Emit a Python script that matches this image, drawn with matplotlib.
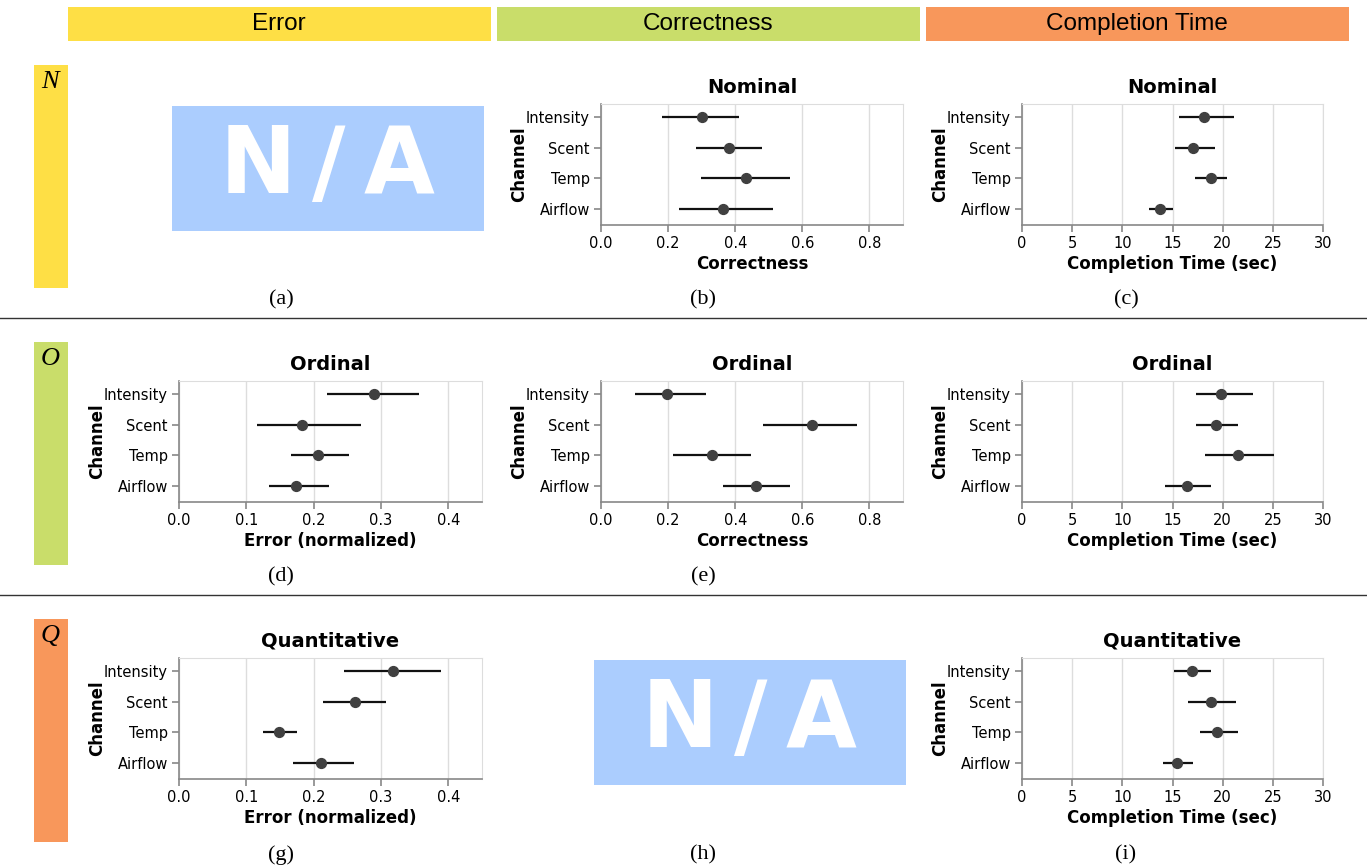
import matplotlib
matplotlib.use("Agg")
import matplotlib.pyplot as plt
from matplotlib.patches import Rectangle
import numpy as np

plt.rcParams['font.family'] = ['DejaVu Sans']

# Data: (mean, ci low, ci high) per channel
channels = ["Intensity", "Scent", "Temp", "Airflow"]

corr_nominal_mean = [0.300, 0.382, 0.432, 0.364]
corr_nominal_lo = [0.183, 0.282, 0.299, 0.233]
corr_nominal_hi = [0.412, 0.480, 0.564, 0.513]

time_nominal_mean = [18.1, 17.0, 18.8, 13.8]
time_nominal_lo = [15.6, 15.2, 17.2, 12.7]
time_nominal_hi = [21.1, 19.2, 20.4, 15.0]

err_ordinal_mean = [0.290, 0.183, 0.207, 0.174]
err_ordinal_lo = [0.220, 0.116, 0.167, 0.133]
err_ordinal_hi = [0.357, 0.270, 0.253, 0.223]

corr_ordinal_mean = [0.196, 0.630, 0.330, 0.463]
corr_ordinal_lo = [0.100, 0.482, 0.216, 0.364]
corr_ordinal_hi = [0.314, 0.763, 0.447, 0.563]

time_ordinal_mean = [19.8, 19.3, 21.5, 16.4]
time_ordinal_lo = [17.3, 17.3, 18.2, 14.3]
time_ordinal_hi = [23.0, 21.5, 25.1, 18.8]

err_quant_mean = [0.318, 0.262, 0.148, 0.211]
err_quant_lo = [0.245, 0.214, 0.125, 0.169]
err_quant_hi = [0.389, 0.308, 0.175, 0.260]

time_quant_mean = [16.9, 18.8, 19.4, 15.4]
time_quant_lo = [15.1, 16.5, 17.7, 14.1]
time_quant_hi = [18.8, 21.3, 21.5, 17.0]

col_titles = ["Error", "Correctness", "Completion Time"]
row_letters = ["N", "O", "Q"]
row_titles = ["Nominal", "Ordinal", "Quantitative"]
captions = ["(a)", "(b)", "(c)", "(d)", "(e)", "", "(g)", "(h)", "(i)"]

W, H = 1367, 867
YELLOW = "#fedf45"
GREEN = "#c9dd6a"
ORANGE = "#f8975b"
NA_BLUE = "#abcdfe"
colors = [YELLOW, GREEN, ORANGE]

fig = plt.figure(figsize=(W / 100, H / 100), dpi=100)

# background layer in pixel coordinates
bg = fig.add_axes([0, 0, 1, 1])
bg.set_xlim(0, W)
bg.set_ylim(H, 0)
bg.axis("off")

hdr_x = [68, 497, 926]
for i in range(3):
    bg.add_patch(Rectangle((hdr_x[i], 7), 423, 34, color=colors[i], lw=0))
    bg.text(hdr_x[i] + 211, 24, col_titles[i], ha="center", va="center",
            fontsize=17.5, family="Liberation Sans")

row_top = [65, 342, 619]
for i in range(3):
    bg.add_patch(Rectangle((34, row_top[i]), 34, 223, color=colors[i], lw=0))
    bg.text(50, row_top[i] + 17, row_letters[i], ha="center", va="center",
            fontsize=19, family="Liberation Serif", style="italic")

for y in [318, 595]:
    bg.plot([0, W], [y, y], color="#333333", lw=1)

cap_x = [281, 703, 1126]
cap_y = [300, 577, 855]
for r in range(3):
    for c in range(3):
        bg.text(cap_x[c], cap_y[r], captions[r * 3 + c], ha="center", va="center",
                fontsize=16, family="Liberation Serif")

# N/A boxes
for (x0, y0) in [(172, 106), (594, 660)]:
    bg.add_patch(Rectangle((x0, y0), 312, 125, color=NA_BLUE, lw=0))
    for dx, ch in zip([-70, 1, 71], ["N", "/", "A"]):
        bg.text(x0 + 156 + dx, y0 + 61, ch, ha="center", va="center",
                color="white", fontsize=66, fontweight="bold", family="DejaVu Sans")


def px_axes(x0, y0, x1, y1):
    return fig.add_axes([x0 / W, 1 - y1 / H, (x1 - x0) / W, (y1 - y0) / H])


def dot_panel(x0, y0, x1, y1, mean, lo, hi, xmax, xticks, fmt, xlabel, title):
    ax = px_axes(x0, y0, x1, y1)
    ypos = np.arange(len(channels))
    ax.hlines(ypos, lo, hi, color="#111111", lw=1.6, zorder=3)
    ax.scatter(mean, ypos, s=50, color="#404040", zorder=4)
    ax.set_xlim(0, xmax)
    ax.set_ylim(3.52, -0.42)
    ax.set_yticks(ypos)
    ax.set_yticklabels(channels, fontsize=10.5)
    ax.set_xticks(xticks)
    ax.set_xticklabels([fmt.format(t) for t in xticks], fontsize=10.5)
    ax.grid(axis="x", color="#dddddd", lw=1)
    ax.set_axisbelow(True)
    for s in ["top", "right"]:
        ax.spines[s].set_color("#dddddd")
    for s in ["left", "bottom"]:
        ax.spines[s].set_color("#888888")
        ax.spines[s].set_linewidth(1.2)
    ax.tick_params(colors="#888888", labelcolor="black", length=5, width=1.2, pad=3)
    ax.set_xlabel(xlabel, fontsize=12, fontweight="bold", labelpad=3)
    ax.set_ylabel("Channel", fontsize=12, fontweight="bold")
    ax.yaxis.set_label_coords(-73 / (x1 - x0), 0.5)
    ax.set_title(title, fontsize=14, fontweight="bold", pad=8)
    return ax


corr_ticks = [0.0, 0.2, 0.4, 0.6, 0.8]
time_ticks = [0, 5, 10, 15, 20, 25, 30]
err_ticks = [0.0, 0.1, 0.2, 0.3, 0.4]

dot_panel(601, 104, 903, 225, corr_nominal_mean, corr_nominal_lo, corr_nominal_hi,
          0.9, corr_ticks, "{:.1f}", "Correctness", row_titles[0])
dot_panel(1022, 104, 1323, 225, time_nominal_mean, time_nominal_lo, time_nominal_hi,
          30, time_ticks, "{:d}", "Completion Time (sec)", row_titles[0])

dot_panel(179, 381, 482, 502, err_ordinal_mean, err_ordinal_lo, err_ordinal_hi,
          0.45, err_ticks, "{:.1f}", "Error (normalized)", row_titles[1])
dot_panel(601, 381, 903, 502, corr_ordinal_mean, corr_ordinal_lo, corr_ordinal_hi,
          0.9, corr_ticks, "{:.1f}", "Correctness", row_titles[1])
dot_panel(1022, 381, 1323, 502, time_ordinal_mean, time_ordinal_lo, time_ordinal_hi,
          30, time_ticks, "{:d}", "Completion Time (sec)", row_titles[1])

dot_panel(179, 658, 482, 779, err_quant_mean, err_quant_lo, err_quant_hi,
          0.45, err_ticks, "{:.1f}", "Error (normalized)", row_titles[2])
dot_panel(1022, 658, 1323, 779, time_quant_mean, time_quant_lo, time_quant_hi,
          30, time_ticks, "{:d}", "Completion Time (sec)", row_titles[2])

fig.savefig("out.png", dpi=100)
